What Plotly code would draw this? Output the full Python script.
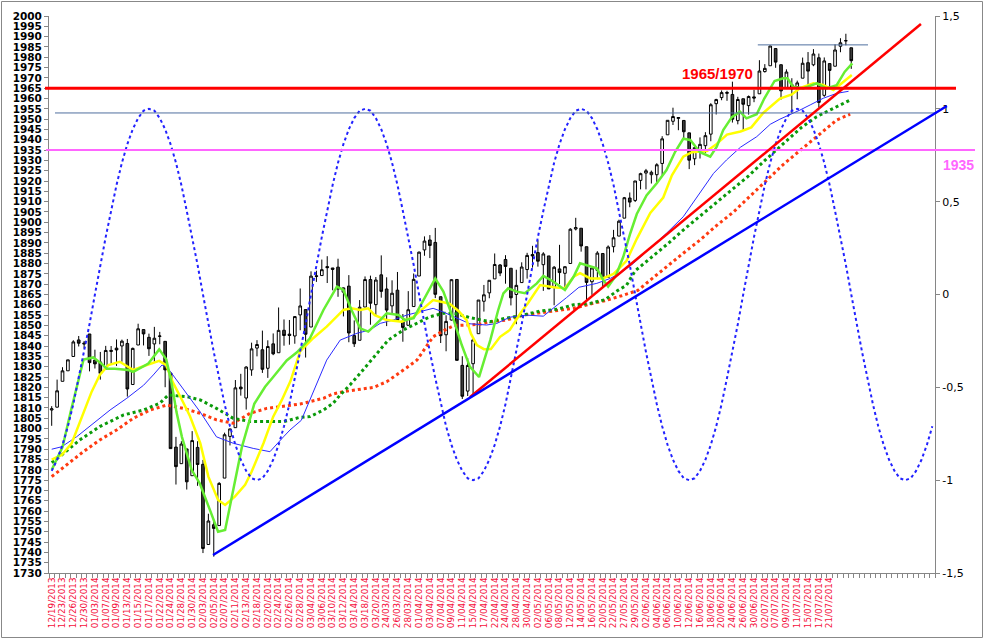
import plotly.graph_objects as go

# ---------------- data ----------------
dates = [
    "12/19/2013", "12/20/2013", "12/23/2013", "12/24/2013", "12/26/2013", "12/27/2013", "12/30/2013",
    "01/02/2014", "01/03/2014", "01/06/2014", "01/07/2014", "01/08/2014", "01/09/2014", "01/10/2014",
    "01/13/2014", "01/14/2014", "01/15/2014", "01/16/2014", "01/17/2014", "01/21/2014", "01/22/2014",
    "01/23/2014", "01/24/2014", "01/27/2014", "01/28/2014", "01/29/2014", "01/30/2014", "01/31/2014",
    "02/03/2014", "02/04/2014", "02/05/2014", "02/06/2014", "02/07/2014", "02/10/2014", "02/11/2014",
    "02/12/2014", "02/13/2014", "02/14/2014", "02/18/2014", "02/19/2014", "02/20/2014", "02/21/2014",
    "02/24/2014", "02/25/2014", "02/26/2014", "02/27/2014", "02/28/2014", "03/03/2014", "03/04/2014",
    "03/05/2014", "03/06/2014", "03/07/2014", "03/10/2014", "03/11/2014", "03/12/2014", "03/13/2014",
    "03/14/2014", "03/17/2014", "03/18/2014", "03/19/2014", "03/20/2014", "21/03/2014", "24/03/2014",
    "25/03/2014", "26/03/2014", "27/03/2014", "28/03/2014", "31/03/2014", "01/04/2014", "02/04/2014",
    "03/04/2014", "04/04/2014", "07/04/2014", "08/04/2014", "09/04/2014", "10/04/2014", "11/04/2014",
    "14/04/2014", "15/04/2014", "16/04/2014", "17/04/2014", "21/04/2014", "22/04/2014", "23/04/2014",
    "24/04/2014", "25/04/2014", "28/04/2014", "29/04/2014", "30/04/2014", "01/05/2014", "02/05/2014",
    "05/05/2014", "06/05/2014", "07/05/2014", "08/05/2014", "09/05/2014", "12/05/2014", "13/05/2014",
    "14/05/2014", "15/05/2014", "16/05/2014", "19/05/2014", "20/05/2014", "21/05/2014", "22/05/2014",
    "23/05/2014", "27/05/2014", "28/05/2014", "29/05/2014", "30/05/2014", "02/06/2014", "03/06/2014",
    "04/06/2014", "05/06/2014", "06/06/2014", "09/06/2014", "10/06/2014", "11/06/2014", "12/06/2014",
    "13/06/2014", "16/06/2014", "17/06/2014", "18/06/2014", "19/06/2014", "20/06/2014", "23/06/2014",
    "24/06/2014", "25/06/2014", "26/06/2014", "27/06/2014", "30/06/2014", "01/07/2014", "02/07/2014",
    "03/07/2014", "07/07/2014", "08/07/2014", "09/07/2014", "10/07/2014", "11/07/2014", "14/07/2014",
    "15/07/2014", "16/07/2014", "17/07/2014", "18/07/2014", "21/07/2014", "22/07/2014", "23/07/2014",
    "24/07/2014", "25/07/2014",
]

open_ = [1809.00, 1810.39, 1822.92, 1828.02, 1834.96, 1842.97, 1841.47, 1845.86, 1833.21, 1832.31,
         1828.71, 1837.90, 1839.00, 1840.06, 1841.26, 1821.36, 1840.52, 1847.99, 1844.23, 1841.05,
         1844.71, 1842.29, 1826.96, 1791.03, 1783.00, 1790.15, 1777.17, 1790.88, 1782.68, 1743.82,
         1753.38, 1752.99, 1776.01, 1796.20, 1800.45, 1820.12, 1814.82, 1828.46, 1839.03, 1838.22,
         1829.24, 1841.07, 1836.78, 1847.66, 1845.79, 1844.90, 1855.12, 1857.68, 1849.23, 1874.05,
         1874.18, 1878.52, 1877.86, 1878.26, 1866.15, 1869.06, 1845.07, 1842.81, 1858.92, 1872.25,
         1860.09, 1874.53, 1867.67, 1859.48, 1867.09, 1852.11, 1850.07, 1859.16, 1873.96, 1886.61,
         1891.43, 1890.25, 1863.92, 1845.48, 1852.64, 1872.28, 1830.65, 1818.18, 1831.45, 1846.01,
         1861.73, 1865.79, 1872.57, 1879.32, 1881.97, 1877.72, 1865.00, 1870.78, 1877.10, 1884.39,
         1885.30, 1879.45, 1883.69, 1868.53, 1877.39, 1875.27, 1880.03, 1896.75, 1897.13, 1888.16,
         1871.19, 1876.66, 1884.88, 1873.34, 1888.19, 1893.32, 1902.01, 1911.77, 1910.60, 1920.33,
         1923.87, 1923.07, 1923.06, 1928.52, 1942.41, 1948.97, 1950.34, 1949.37, 1943.35, 1930.80,
         1934.84, 1937.15, 1942.73, 1957.50, 1960.45, 1962.92, 1961.97, 1949.27, 1959.89, 1956.56,
         1960.79, 1962.29, 1973.06, 1975.88, 1984.22, 1976.39, 1965.10, 1966.67, 1965.76, 1969.86,
         1977.36, 1976.35, 1979.75, 1961.54, 1976.93, 1975.65, 1985.32, 1988.07, 1984.60]
high = [1810.88, 1823.75, 1829.75, 1833.32, 1842.84, 1844.89, 1842.47, 1845.86, 1838.24, 1837.16,
        1840.10, 1840.02, 1843.23, 1843.15, 1843.45, 1839.26, 1850.84, 1847.99, 1846.03, 1849.31,
        1846.87, 1842.29, 1826.96, 1795.98, 1793.87, 1790.15, 1798.77, 1793.88, 1784.83, 1758.73,
        1755.79, 1774.06, 1798.03, 1799.94, 1823.54, 1826.55, 1830.25, 1841.65, 1842.87, 1847.50,
        1842.79, 1846.13, 1858.71, 1852.91, 1852.65, 1854.53, 1867.92, 1857.68, 1876.23, 1876.53,
        1881.94, 1883.57, 1877.87, 1882.35, 1868.38, 1874.40, 1852.44, 1862.30, 1873.76, 1874.14,
        1873.49, 1883.97, 1873.34, 1871.87, 1875.92, 1855.55, 1866.63, 1875.18, 1885.84, 1893.17,
        1893.80, 1897.28, 1864.04, 1854.95, 1872.43, 1872.53, 1835.07, 1834.19, 1844.02, 1862.31,
        1869.63, 1871.89, 1884.89, 1879.75, 1884.06, 1877.72, 1877.01, 1880.60, 1885.20, 1888.59,
        1891.33, 1885.51, 1883.69, 1878.83, 1889.07, 1878.57, 1897.13, 1902.17, 1897.13, 1888.16,
        1878.28, 1886.00, 1884.88, 1888.80, 1896.33, 1901.26, 1912.28, 1914.46, 1920.03, 1924.03,
        1925.88, 1925.07, 1928.63, 1941.74, 1949.44, 1955.55, 1950.86, 1949.37, 1943.35, 1937.30,
        1941.15, 1943.69, 1957.74, 1959.87, 1963.91, 1963.74, 1968.17, 1960.83, 1959.89, 1961.47,
        1964.24, 1978.58, 1976.67, 1985.59, 1984.22, 1976.39, 1974.15, 1969.84, 1968.67, 1979.85,
        1982.52, 1983.94, 1981.80, 1979.91, 1976.93, 1986.24, 1989.23, 1991.39, 1984.60]
low = [1801.35, 1810.25, 1822.92, 1828.02, 1834.96, 1839.81, 1838.77, 1827.74, 1829.13, 1823.73,
       1828.71, 1831.40, 1830.38, 1832.43, 1815.52, 1821.36, 1840.52, 1840.30, 1835.23, 1832.38,
       1840.88, 1820.06, 1790.29, 1772.88, 1783.00, 1770.45, 1777.17, 1772.26, 1739.66, 1743.82,
       1737.92, 1752.99, 1776.01, 1791.83, 1800.41, 1815.97, 1809.22, 1825.59, 1835.01, 1826.99,
       1824.58, 1835.60, 1836.78, 1840.19, 1840.66, 1841.13, 1847.67, 1834.44, 1849.23, 1871.11,
       1874.18, 1870.56, 1867.04, 1863.88, 1854.38, 1841.86, 1839.57, 1842.81, 1858.92, 1850.35,
       1854.63, 1863.46, 1849.69, 1855.96, 1852.56, 1842.11, 1850.07, 1859.16, 1873.96, 1883.79,
       1882.65, 1863.26, 1841.48, 1837.49, 1852.38, 1833.08, 1814.36, 1815.80, 1816.29, 1846.01,
       1856.72, 1863.18, 1872.57, 1873.91, 1870.24, 1859.70, 1850.61, 1870.78, 1872.69, 1878.04,
       1878.50, 1866.77, 1867.72, 1859.79, 1870.05, 1867.02, 1880.03, 1896.06, 1885.77, 1862.36,
       1864.82, 1872.42, 1868.14, 1873.34, 1885.39, 1893.32, 1902.01, 1907.30, 1909.82, 1915.98,
       1915.98, 1918.79, 1918.60, 1922.93, 1942.41, 1947.16, 1944.64, 1940.08, 1925.78, 1927.69,
       1930.91, 1933.55, 1939.29, 1952.26, 1959.17, 1958.89, 1948.34, 1947.49, 1944.69, 1952.18,
       1958.22, 1962.29, 1972.58, 1975.88, 1974.88, 1959.46, 1965.10, 1952.86, 1959.63, 1969.86,
       1965.34, 1975.67, 1955.59, 1960.82, 1965.77, 1975.65, 1982.44, 1985.79, 1974.37]
close = [1809.60, 1818.32, 1827.99, 1833.32, 1842.02, 1841.40, 1841.07, 1831.98, 1831.37, 1826.77,
         1837.88, 1837.49, 1838.13, 1842.37, 1819.20, 1838.88, 1848.38, 1845.89, 1838.70, 1843.80,
         1844.86, 1828.46, 1790.29, 1781.56, 1792.50, 1774.20, 1794.19, 1782.59, 1741.89, 1755.20,
         1751.64, 1773.43, 1797.02, 1799.84, 1819.75, 1819.26, 1829.83, 1838.63, 1840.76, 1828.75,
         1839.78, 1836.25, 1847.61, 1845.12, 1845.16, 1854.29, 1859.45, 1845.73, 1873.91, 1873.81,
         1877.03, 1878.04, 1877.17, 1867.63, 1868.20, 1846.34, 1841.13, 1858.83, 1872.25, 1860.77,
         1872.01, 1866.52, 1857.44, 1865.62, 1852.56, 1849.04, 1857.62, 1872.34, 1885.52, 1890.90,
         1888.77, 1865.09, 1845.04, 1851.96, 1872.18, 1833.08, 1815.69, 1830.61, 1842.98, 1862.31,
         1864.85, 1871.89, 1879.55, 1875.39, 1878.61, 1863.40, 1869.43, 1878.33, 1883.95, 1883.68,
         1881.14, 1884.66, 1867.72, 1878.21, 1875.63, 1878.48, 1896.65, 1897.45, 1888.53, 1870.85,
         1877.86, 1885.08, 1872.83, 1888.03, 1892.49, 1900.53, 1911.91, 1909.78, 1920.03, 1923.57,
         1924.97, 1924.24, 1927.88, 1940.46, 1949.44, 1951.27, 1950.79, 1943.89, 1930.11, 1936.16,
         1937.78, 1941.99, 1956.98, 1959.48, 1962.87, 1962.61, 1949.98, 1959.53, 1957.22, 1960.96,
         1960.23, 1973.32, 1974.62, 1985.44, 1977.65, 1963.71, 1972.83, 1964.68, 1967.57, 1977.10,
         1973.28, 1981.57, 1958.12, 1978.22, 1973.63, 1983.53, 1987.01, 1987.98, 1978.34]

# category positions of the moving averages and their values
ma_fast_x = [0, 2, 3.5, 5.9, 7.7, 9.2, 10.2, 11.7, 14.2, 15.1, 17.9, 19.9, 21.2, 22.2, 23.1, 24.1, 25.9,
             27.4, 29.3, 30.8, 32.1, 33.6, 35.2, 37.5, 39.5, 41, 43.5, 45.4, 47.8, 50.3, 52.8, 54, 55.5,
             57.1, 58.6, 60.8, 62, 64.2, 65.4, 67, 68.8, 71, 72.5, 74.3, 75.9, 77.4, 79.1, 81.2, 82.6,
             83.6, 84.5, 86.1, 87.6, 89.8, 91, 92.9, 95, 96.6, 97.8, 99, 100.9, 102.1, 103, 104.4, 105.8,
             107.1, 108.3, 110.1, 112, 113.8, 115.4, 116.9, 118.2, 120, 121.9, 123.1, 124.3, 125.9, 127.4,
             128.6, 130.5, 131.9, 133.8, 135.4, 136.2, 137.2, 139.1, 141.6, 143.4, 145.3, 146.8, 148.2]
ma_fast_y = [1780, 1791, 1808, 1833.5, 1834.5, 1831.5, 1829, 1829, 1828.4, 1827.5, 1831.5, 1838.4, 1833.6,
             1822, 1808, 1796, 1780, 1773.5, 1760.5, 1750, 1750.8, 1770, 1791, 1812, 1820.3, 1825, 1833,
             1837, 1843.8, 1857.5, 1868.8, 1867.2, 1857.5, 1848.6, 1847, 1852.6, 1855.9, 1855.1, 1852.6,
             1853.5, 1862.3, 1872.8, 1866.4, 1853.5, 1840.5, 1830, 1825, 1843, 1857, 1865.5, 1868, 1866.4,
             1865.6, 1870.4, 1874, 1871.2, 1867.2, 1873.6, 1880.1, 1879.3, 1877.7, 1872, 1868.8, 1874,
             1883.3, 1894.7, 1904, 1913, 1918.9, 1925.3, 1934.2, 1940.5, 1939.9, 1934, 1931.8, 1936.6,
             1944.7, 1951, 1953.6, 1950.4, 1952.4, 1960, 1968.5, 1969.8, 1969.8, 1965.7, 1964.9, 1967.4,
             1964.9, 1966.5, 1973, 1977]

ma_mid_x = [0, 1.85, 3.7, 5.85, 7.4, 8.9, 10.5, 12.6, 15.1, 17.6, 19.9, 21.2, 22.4, 24.1, 25.6, 27.5, 29,
            30.8, 32.1, 33.9, 35.8, 37, 39.2, 41, 42.6, 44.2, 46, 48.4, 50.9, 54, 55.5, 57.1, 58.6, 59.8,
            62, 64.8, 67, 68.8, 70.6, 72.5, 73.7, 75.3, 76.8, 77.6, 78.7, 80, 81.3, 83, 84.8, 86.8, 88.2,
            90.4, 92.9, 95, 96.6, 97.8, 99.7, 102, 104, 106.4, 108.3, 110.8, 113.2, 114.8, 116.9, 118.5,
            121.3, 123.1, 125, 127.5, 129.5, 131.7, 134.8, 137, 138.5, 141, 142.8, 144.7, 146.2, 148.1]
ma_mid_y = [1785, 1787.2, 1792.9, 1808, 1817.9, 1826, 1830.8, 1832.4, 1828.4, 1830.8, 1832.8, 1830.8, 1822.5,
            1814, 1806, 1792.9, 1776.7, 1765.4, 1763, 1767, 1772.7, 1779.1, 1792.9, 1805.8, 1813.9, 1823,
            1837.5, 1843.8, 1849.4, 1857.5, 1858.3, 1857.5, 1858.3, 1855, 1852.6, 1851.8, 1854.2, 1858.3,
            1862.3, 1861.2, 1860.5, 1857, 1852.6, 1846, 1840.5, 1838.5, 1838.6, 1844.5, 1847.8, 1856, 1861,
            1869.6, 1868.5, 1868, 1873.6, 1875.3, 1872.8, 1872.8, 1875, 1881.3, 1892, 1904.5, 1912, 1922.8,
            1931.8, 1934, 1934.5, 1938, 1942.5, 1944, 1946, 1953, 1960, 1962, 1965, 1967.4, 1966.6, 1964.1,
            1967.4, 1971.4]

ma_slow_x = [0, 1.85, 4.6, 7.7, 10.8, 13.9, 17, 18.8, 20.4, 21.3, 23.1, 25.3, 27.5, 30.5, 33.6, 37.3, 40.4,
             42.9, 44.1, 46.2, 49.1, 50.9, 53.4, 56.5, 58.9, 60.8, 63.2, 65.7, 68.2, 70.6, 72.5, 74.3, 77.4,
             80.5, 82.4, 84.8, 87.9, 91, 93.5, 95.3, 97.6, 100.9, 103.4, 105.6, 107.7, 110.8, 113.8, 116.9,
             120, 122.5, 124.9, 127.5, 130.5, 133, 134.8, 137, 138.5, 140.4, 142.8, 145.3, 147.5]
ma_slow_y = [1790, 1791.2, 1796, 1802.6, 1809, 1814.7, 1821, 1826, 1830.8, 1830, 1823.6, 1815.5, 1808, 1796,
             1792.9, 1790.4, 1788.8, 1796, 1799.3, 1804, 1822, 1833.2, 1842.9, 1846.2, 1847.8, 1851, 1852.6,
             1855, 1856.7, 1858.3, 1856.5, 1854.5, 1850.8, 1850.2, 1851, 1854, 1855, 1854.5, 1860, 1863.5,
             1868.5, 1870.4, 1872.8, 1876, 1880.1, 1887.5, 1894.7, 1902.7, 1914, 1923.7, 1930.2, 1936.4,
             1941.5, 1947.5, 1950, 1952.4, 1954.4, 1956.9, 1960.1, 1962.5, 1963.5]

ma_green_dot_x = [0, 1.85, 5.2, 8.9, 13.3, 17, 20, 21.6, 25, 27.5, 30.5, 33.6, 36.7, 39.8, 42.9, 46, 47.8,
                  50.3, 52.1, 53.4, 55.2, 57.1, 58.9, 60.5, 62.3, 65.1, 67.6, 70, 72.5, 75, 77.4, 79.3,
                  81.1, 84, 87.3, 90.4, 93.5, 96.6, 99.7, 102.4, 104.8, 106.4, 108, 111, 114, 117, 120,
                  123, 126, 129, 132, 135, 138.8, 141.6, 144.1, 147.6]
ma_green_dot_y = [1783.5, 1787.2, 1794.5, 1801, 1806.6, 1809, 1812.3, 1816.3, 1815.5, 1813.9, 1809.8, 1805,
                  1803.4, 1803.4, 1803.4, 1805.5, 1805.8, 1809, 1812.3, 1816.3, 1821.1, 1826.8, 1832.4,
                  1837.5, 1842.9, 1847.8, 1851, 1854.2, 1855.9, 1855.6, 1853.8, 1852.6, 1851.8, 1853.5,
                  1855, 1857, 1857.8, 1860, 1860.7, 1862.5, 1867, 1869.5, 1876.5, 1883, 1889.5, 1896.5,
                  1903, 1909.5, 1916, 1922.5, 1930, 1937, 1946, 1951.2, 1954.4, 1959]

ma_red_dot_x = [0, 2.8, 5.85, 8.9, 12, 15.1, 18.2, 21.3, 24.4, 27.5, 30.5, 33.6, 36.7, 39.8, 42.9, 46, 50.3,
                52.1, 54, 56.5, 59.6, 62, 63.9, 65.7, 67.6, 68.8, 70.6, 72.5, 74.5, 76.8, 79.3, 81.1, 84.2,
                87.3, 90.4, 93.5, 96.6, 99.7, 102.4, 105.5, 108.5, 110.8, 113.8, 116.9, 120, 123.1, 126.2,
                129.3, 132.4, 135.4, 138.8, 142.8, 145.3, 147.8]
ma_red_dot_y = [1776.7, 1782.4, 1788.8, 1794.5, 1799.3, 1805, 1809, 1811.4, 1809.8, 1807.4, 1804.2, 1802.6,
                1807.4, 1809.8, 1810.9, 1811.9, 1814.7, 1816.8, 1817.9, 1818.7, 1820, 1822.7, 1826, 1829.5,
                1833.2, 1837.6, 1844.5, 1847.4, 1850, 1850.2, 1850.6, 1851.8, 1852.6, 1855, 1856, 1857.2,
                1858.3, 1860.4, 1862, 1864.4, 1867, 1872, 1878.5, 1885, 1891.4, 1898.5, 1905, 1913, 1920.5,
                1928, 1935.5, 1944.5, 1949.6, 1952.4]

# cycle curve on the right axis, one value per category
cycle = [-0.95, -0.89, -0.81, -0.71, -0.59, -0.45, -0.31, -0.16, 0.00, 0.16, 0.31, 0.45, 0.59, 0.71, 0.81,
         0.89, 0.95, 0.99,
         1.00, 0.99, 0.95, 0.89, 0.81, 0.71, 0.59, 0.45, 0.31, 0.16, 0.00, -0.16, -0.31, -0.45, -0.59, -0.71,
         -0.81, -0.89, -0.95, -0.99, -1.00, -0.99, -0.95, -0.89, -0.81, -0.71, -0.59, -0.45, -0.31, -0.16,
         0.00, 0.16, 0.31, 0.45, 0.59, 0.71, 0.81, 0.89, 0.95, 0.99,
         1.00, 0.99, 0.95, 0.89, 0.81, 0.71, 0.59, 0.45, 0.31, 0.16, 0.00, -0.16, -0.31, -0.45, -0.59, -0.71,
         -0.81, -0.89, -0.95, -0.99, -1.00, -0.99, -0.95, -0.89, -0.81, -0.71, -0.59, -0.45, -0.31, -0.16,
         0.00, 0.16, 0.31, 0.45, 0.59, 0.71, 0.81, 0.89, 0.95, 0.99,
         1.00, 0.99, 0.95, 0.89, 0.81, 0.71, 0.59, 0.45, 0.31, 0.16, 0.00, -0.16, -0.31, -0.45, -0.59, -0.71,
         -0.81, -0.89, -0.95, -0.99, -1.00, -0.99, -0.95, -0.89, -0.81, -0.71, -0.59, -0.45, -0.31, -0.16,
         0.00, 0.16, 0.31, 0.45, 0.59, 0.71, 0.81, 0.89, 0.95, 0.99,
         1.00, 0.99, 0.95, 0.89, 0.81, 0.71, 0.59, 0.45, 0.31, 0.16, 0.00, -0.16, -0.31, -0.45, -0.59, -0.71,
         -0.81, -0.89, -0.95, -0.99, -1.00, -0.99, -0.95, -0.89, -0.81, -0.71]

# levels and trend lines (category, value)
level_resistance = 1965
level_support = 1935
level_mid = 1953
level_top = 1986
level_top_span = (130.7, 151.1)
trend_red = [(77.4, 1815.2), (160.9, 1996.1)]
trend_blue = [(29.86, 1738.7), (165.7, 1956.4)]

left_ticks = list(range(1730, 2001, 5))
right_tickvals = [-1.5, -1, -0.5, 0, 0.5, 1, 1.5]
right_ticktext = ["-1,5", "-1", "-0,5", "0", "0,5", "1", "1,5"]

# ---------------- figure ----------------
N_CAT = 164
X0, X1 = -0.5, N_CAT - 0.5
cats = list(range(len(dates)))
cycle_x = list(range(len(cycle)))

PLOT_W, PLOT_H = 886, 557


def xp(c):
    return (c - X0) / (X1 - X0)


fig = go.Figure()
fig.add_trace(go.Candlestick(
    x=cats, open=open_, high=high, low=low, close=close,
    increasing=dict(line=dict(color="black", width=1), fillcolor="white"),
    decreasing=dict(line=dict(color="black", width=1), fillcolor="#3c3c3c"),
    whiskerwidth=0, showlegend=False, hoverinfo="skip"))

fig.add_trace(go.Scatter(x=ma_red_dot_x, y=ma_red_dot_y, mode="lines",
                         line=dict(color="#FF3A10", width=3, dash="dot"), hoverinfo="skip"))
fig.add_trace(go.Scatter(x=ma_green_dot_x, y=ma_green_dot_y, mode="lines",
                         line=dict(color="#0A9A0A", width=3, dash="dot"), hoverinfo="skip"))
fig.add_trace(go.Scatter(x=ma_slow_x, y=ma_slow_y, mode="lines",
                         line=dict(color="#2A2AFF", width=1), hoverinfo="skip"))
fig.add_trace(go.Scatter(x=ma_mid_x, y=ma_mid_y, mode="lines",
                         line=dict(color="#FFFF00", width=2.5), hoverinfo="skip"))
fig.add_trace(go.Scatter(x=ma_fast_x, y=ma_fast_y, mode="lines",
                         line=dict(color="#66EE33", width=2.5), hoverinfo="skip"))
fig.add_trace(go.Scatter(x=cycle_x, y=cycle, mode="lines", yaxis="y2",
                         line=dict(color="#2222FF", width=2, dash="dot"), hoverinfo="skip"))

shapes = [
    # chart border
    dict(type="rect", xref="paper", yref="paper", x0=-47.5 / PLOT_W, x1=933.5 / PLOT_W,
         y0=-64.5 / PLOT_H, y1=571.5 / PLOT_H, line=dict(color="#888888", width=1)),
    dict(type="line", xref="paper", yref="y", x0=6 / PLOT_W, x1=1 + 2 / PLOT_W, y0=level_mid, y1=level_mid,
         line=dict(color="#4F6F9F", width=1)),
    dict(type="line", xref="x", yref="y", x0=level_top_span[0], x1=level_top_span[1], y0=level_top, y1=level_top,
         line=dict(color="#4F6F9F", width=1)),
    dict(type="line", xref="paper", yref="y", x0=-4 / PLOT_W, x1=1 + 21 / PLOT_W,
         y0=level_resistance, y1=level_resistance, line=dict(color="#FF0000", width=3)),
    dict(type="line", xref="paper", yref="y", x0=-3 / PLOT_W, x1=1 + 40 / PLOT_W,
         y0=level_support, y1=level_support, line=dict(color="#FF66FF", width=2)),
    dict(type="line", xref="x", yref="y", x0=trend_red[0][0], y0=trend_red[0][1],
         x1=trend_red[1][0], y1=trend_red[1][1], line=dict(color="#FF0000", width=2.5)),
    dict(type="line", xref="paper", yref="y", x0=xp(trend_blue[0][0]), y0=trend_blue[0][1],
         x1=xp(trend_blue[1][0]), y1=trend_blue[1][1], line=dict(color="#0000FF", width=2.5)),
]

annotations = [
    dict(x=123.2, y=1972, xref="x", yref="y", text="<b>1965/1970</b>", showarrow=False,
         xanchor="center", yanchor="middle",
         font=dict(family="Liberation Sans", size=15, color="#FF0000")),
    dict(x=1 + 23 / PLOT_W, y=1927.8, xref="paper", yref="y", text="<b>1935</b>", showarrow=False,
         xanchor="center", yanchor="middle",
         font=dict(family="Liberation Sans", size=14, color="#FF66FF")),
]

fig.update_layout(
    width=985, height=641, autosize=False,
    margin=dict(l=49, r=50, t=16, b=68, pad=0),
    paper_bgcolor="white", plot_bgcolor="white",
    showlegend=False,
    shapes=shapes, annotations=annotations,
    font=dict(family="DejaVu Sans", color="black"),
    xaxis=dict(
        range=[X0, X1], rangeslider=dict(visible=False), automargin=False,
        tickmode="array", tickvals=cats[0:145:2], ticktext=dates[0:145:2],
        tickangle=-90, tickfont=dict(family="DejaVu Sans", size=8.8, color="#F5103C"),
        ticks="", showline=True, linecolor="#868686", linewidth=1, showgrid=False, zeroline=False,
        minor=dict(ticks="outside", tickmode="linear", tick0=-0.5, dtick=1, ticklen=4, tickcolor="#868686"),
    ),
    yaxis=dict(
        range=[1730, 2000], tickmode="array", tickvals=left_ticks, automargin=False,
        ticks="outside", ticklen=4, tickcolor="#868686",
        tickfont=dict(family="DejaVu Sans", size=10.5, color="black", weight="bold"),
        showline=True, linecolor="#868686", linewidth=1, showgrid=False, zeroline=False,
    ),
    yaxis2=dict(
        range=[-1.5, 1.5], overlaying="y", side="right", tickmode="array", automargin=False,
        tickvals=right_tickvals, ticktext=right_ticktext,
        ticks="outside", ticklen=4, tickcolor="#868686",
        tickfont=dict(family="DejaVu Sans", size=11, color="black"),
        showline=True, linecolor="#868686", linewidth=1, showgrid=False, zeroline=False,
    ),
)

fig.write_html("out.html", config={"displayModeBar": False, "staticPlot": True},
               post_script="document.body.style.margin='0';document.body.style.overflow='hidden';")
